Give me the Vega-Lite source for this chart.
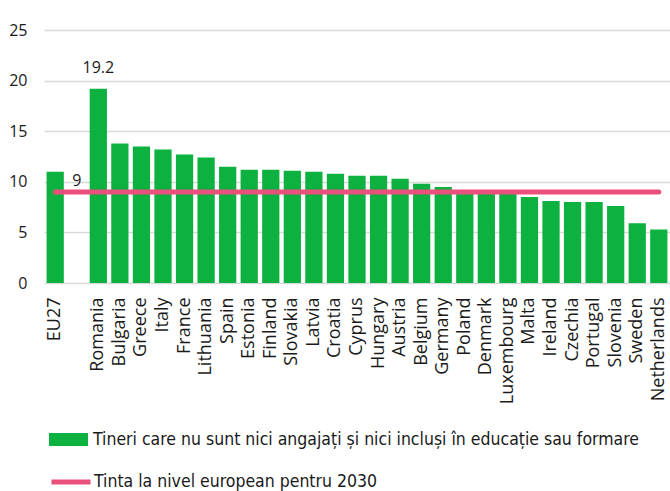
{
  "$schema": "https://vega.github.io/schema/vega-lite/v6.json",
  "autosize": "none",
  "width": 626,
  "height": 263,
  "padding": {"left": 44, "top": 20, "right": 0, "bottom": 208},
  "background": "white",
  "config": {
    "view": {"stroke": null},
    "font": "Open Sans"
  },
  "data": {
    "values": [
      {"country": "EU27", "value": 11.0, "target": 9},
      {"country": " ", "value": null, "target": 9},
      {"country": "Romania", "value": 19.2, "target": 9},
      {"country": "Bulgaria", "value": 13.8, "target": 9},
      {"country": "Greece", "value": 13.5, "target": 9},
      {"country": "Italy", "value": 13.2, "target": 9},
      {"country": "France", "value": 12.7, "target": 9},
      {"country": "Lithuania", "value": 12.4, "target": 9},
      {"country": "Spain", "value": 11.5, "target": 9},
      {"country": "Estonia", "value": 11.2, "target": 9},
      {"country": "Finland", "value": 11.2, "target": 9},
      {"country": "Slovakia", "value": 11.1, "target": 9},
      {"country": "Latvia", "value": 11.0, "target": 9},
      {"country": "Croatia", "value": 10.8, "target": 9},
      {"country": "Cyprus", "value": 10.6, "target": 9},
      {"country": "Hungary", "value": 10.6, "target": 9},
      {"country": "Austria", "value": 10.3, "target": 9},
      {"country": "Belgium", "value": 9.8, "target": 9},
      {"country": "Germany", "value": 9.5, "target": 9},
      {"country": "Poland", "value": 9.0, "target": 9},
      {"country": "Denmark", "value": 8.9, "target": 9},
      {"country": "Luxembourg", "value": 8.9, "target": 9},
      {"country": "Malta", "value": 8.5, "target": 9},
      {"country": "Ireland", "value": 8.1, "target": 9},
      {"country": "Czechia", "value": 8.0, "target": 9},
      {"country": "Portugal", "value": 8.0, "target": 9},
      {"country": "Slovenia", "value": 7.6, "target": 9},
      {"country": "Sweden", "value": 5.9, "target": 9},
      {"country": "Netherlands", "value": 5.3, "target": 9}
    ]
  },
  "encoding": {
    "x": {
      "field": "country",
      "type": "nominal",
      "sort": null,
      "scale": {
        "domain": ["EU27", " ", "Romania", "Bulgaria", "Greece", "Italy", "France", "Lithuania", "Spain", "Estonia", "Finland", "Slovakia", "Latvia", "Croatia", "Cyprus", "Hungary", "Austria", "Belgium", "Germany", "Poland", "Denmark", "Luxembourg", "Malta", "Ireland", "Czechia", "Portugal", "Slovenia", "Sweden", "Netherlands"],
        "paddingInner": 0.2,
        "paddingOuter": 0.12
      },
      "axis": {
        "title": null,
        "labelAngle": -90,
        "labelFontSize": 18,
        "labelColor": "#1a1a1a",
        "labelPadding": 14,
        "ticks": false,
        "tickSize": 0,
        "domain": false,
        "labelFont": "Open Sans"
      }
    }
  },
  "layer": [
    {
      "mark": {"type": "bar"},
      "encoding": {
        "y": {
          "field": "value",
          "type": "quantitative",
          "scale": {"domain": [0, 25]},
          "axis": {
            "title": null,
            "values": [0, 5, 10, 15, 20, 25],
            "labelFontSize": 16,
            "labelColor": "#1a1a1a",
            "labelPadding": 17,
            "ticks": false,
            "tickSize": 0,
            "domain": false,
            "grid": true,
            "gridColor": "#d9d9d9",
            "gridWidth": 1.5,
            "labelFont": "Open Sans"
          }
        },
        "fill": {
          "datum": "Tineri care nu sunt nici angajați și nici incluși în educație sau formare",
          "type": "nominal",
          "scale": {"range": ["#0db13f"]},
          "legend": {
            "title": null,
            "orient": "none",
            "legendX": 5,
            "legendY": 400,
            "padding": 0,
            "symbolType": "M-1,-0.333H1V0.333H-1Z",
            "symbolSize": 1521,
            "symbolStrokeWidth": 0,
            "labelFont": "DejaVu Sans Condensed",
            "labelFontSize": 17.5,
            "labelColor": "#1a1a1a",
            "labelOffset": 5,
            "labelLimit": 700
          }
        }
      }
    },
    {
      "mark": {"type": "line", "strokeWidth": 5, "strokeCap": "round"},
      "encoding": {
        "y": {"field": "target", "type": "quantitative"},
        "stroke": {
          "datum": "Tinta la nivel european pentru 2030",
          "type": "nominal",
          "scale": {"range": ["#e9507b"]},
          "legend": {
            "title": null,
            "orient": "none",
            "legendX": 5,
            "legendY": 440,
            "padding": 0,
            "symbolType": "stroke",
            "symbolSize": 1521,
            "symbolStrokeWidth": 5,
            "labelFont": "DejaVu Sans Condensed",
            "labelFontSize": 17.5,
            "labelColor": "#1a1a1a",
            "labelOffset": 1,
            "labelLimit": 700
          }
        }
      }
    },
    {
      "transform": [{"filter": "datum.country === 'Romania'"}],
      "mark": {"type": "text", "baseline": "alphabetic", "dy": -16, "fontSize": 16, "color": "#1a1a1a", "font": "Open Sans"},
      "encoding": {
        "y": {"field": "value", "type": "quantitative"},
        "text": {"field": "value", "type": "quantitative", "format": ".1f"}
      }
    },
    {
      "transform": [{"filter": "datum.country === ' '"}],
      "mark": {"type": "text", "baseline": "alphabetic", "dy": -6, "fontSize": 16, "color": "#1a1a1a", "font": "Open Sans"},
      "encoding": {
        "y": {"field": "target", "type": "quantitative"},
        "text": {"field": "target", "type": "quantitative"}
      }
    }
  ]
}
